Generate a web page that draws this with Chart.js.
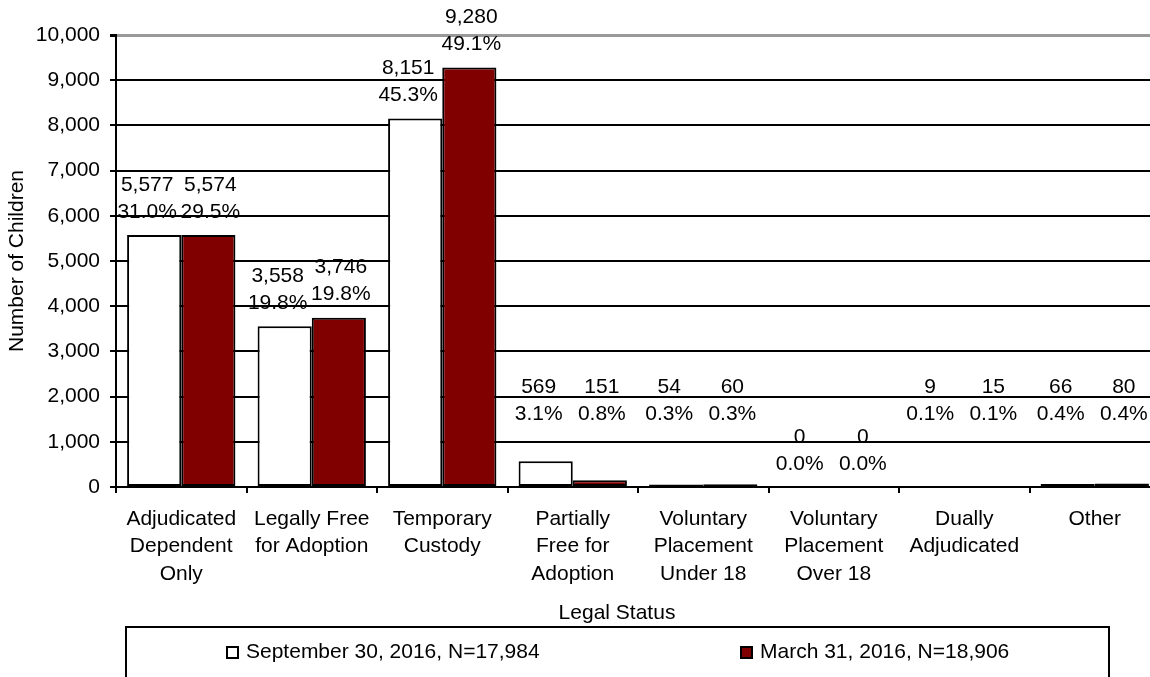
<!DOCTYPE html>
<html>
<head>
<meta charset="utf-8">
<script src="https://cdn.jsdelivr.net/npm/chart.js@4.4.1/dist/chart.umd.min.js"></script>
<style>
    html, body { margin: 0; padding: 0; background: #ffffff; overflow: hidden; }
    #wrap { width: 1150px; height: 677px; overflow: hidden; }
    canvas { display: block; }
</style>
</head>
<body>
<div id="wrap"><canvas id="legal_chart" width="1160" height="677"></canvas></div>
<script>
// Data
const categories = [
    ["Adjudicated", "Dependent", "Only"],
    ["Legally Free", "for Adoption"],
    ["Temporary", "Custody"],
    ["Partially", "Free for", "Adoption"],
    ["Voluntary", "Placement", "Under 18"],
    ["Voluntary", "Placement", "Over 18"],
    ["Dually", "Adjudicated"],
    ["Other"]
];
const series_names = ["September 30, 2016, N=17,984", "March 31, 2016, N=18,906"];
const sept_values = [5577, 3558, 8151, 569, 54, 0, 9, 66];
const march_values = [5574, 3746, 9280, 151, 60, 0, 15, 80];
const sept_percents = ["31.0%", "19.8%", "45.3%", "3.1%", "0.3%", "0.0%", "0.1%", "0.4%"];
const march_percents = ["29.5%", "19.8%", "49.1%", "0.8%", "0.3%", "0.0%", "0.1%", "0.4%"];
const y_ticks = [0, 1000, 2000, 3000, 4000, 5000, 6000, 7000, 8000, 9000, 10000];
const y_title = "Number of Children";
const x_title = "Legal Status";

"use strict";
const font_family = "'Liberation Sans', Arial, sans-serif";
const red_fill = "#800000";

// Value And Percent Labels Above Bars
const bar_labels_plugin = {
    id: "barLabels",
    afterDatasetsDraw(chart) {
        const { ctx } = chart;
        const percents = [sept_percents, march_percents];
        const nudge = [-7, 2]; // White Labels Lean Left
        const lift_level = chart.scales.y.getPixelForValue(2200); // Small Non Zero Bars Get Labels Lifted
        ctx.save();
        ctx.font = "21px " + font_family;
        ctx.fillStyle = "#000000";
        ctx.textAlign = "center";
        ctx.textBaseline = "middle";
        chart.data.datasets.forEach(function (dataset, d) {
            chart.getDatasetMeta(d).data.forEach(function (bar, i) {
                const value = dataset.data[i];
                let value_y = bar.y - 50;
                if (value > 0) {
                    value_y = Math.min(value_y, lift_level);
                }
                ctx.fillText(value.toLocaleString("en-US"), bar.x + nudge[d], value_y);
                ctx.fillText(percents[d][i], bar.x + nudge[d], value_y + 27);
            });
        });
        ctx.restore();
    }
};

// X Title And Boxed Legend
const legend_box_plugin = {
    id: "legendBox",
    afterDraw(chart) {
        const { ctx } = chart;
        ctx.save();
        ctx.font = "21px " + font_family;
        ctx.fillStyle = "#000000";
        ctx.textBaseline = "middle";
        ctx.textAlign = "center";
        ctx.fillText(x_title, 617, 613);
        // Box
        ctx.strokeStyle = "#000000";
        ctx.lineWidth = 2;
        ctx.strokeRect(126, 627, 983, 80);
        // Items
        const items = [
            { x: 227, fill: "#ffffff", text: series_names[0] },
            { x: 741, fill: red_fill, text: series_names[1] }
        ];
        ctx.textAlign = "left";
        items.forEach(function (item) {
            ctx.fillStyle = item.fill;
            ctx.fillRect(item.x, 647, 11, 11);
            ctx.lineWidth = 2;
            ctx.strokeRect(item.x, 647, 11, 11);
            ctx.fillStyle = "#000000";
            ctx.fillText(item.text, item.x + 19, 652);
        });
        ctx.restore();
    }
};

const legal_chart = document.querySelector("#legal_chart");
new Chart(legal_chart, {
    type: "bar",
    data: {
        labels: categories,
        datasets: [
            {
                label: series_names[0],
                data: sept_values,
                backgroundColor: "#ffffff",
                borderColor: "#000000",
                borderWidth: 2,
                borderSkipped: false,
                categoryPercentage: 0.83,
                barPercentage: 1.0
            },
            {
                label: series_names[1],
                data: march_values,
                backgroundColor: red_fill,
                borderColor: "#000000",
                borderWidth: 2,
                borderSkipped: false,
                categoryPercentage: 0.83,
                barPercentage: 1.0
            }
        ]
    },
    options: {
        responsive: false,
        animation: false,
        devicePixelRatio: 1,
        layout: {
            padding: { top: 35, left: 0, right: 0, bottom: 0 }
        },
        scales: {
            x: {
                offset: true,
                grid: {
                    offset: true,
                    drawOnChartArea: false,
                    drawTicks: true,
                    tickLength: 6,
                    color: "#000000",
                    lineWidth: 2
                },
                border: { color: "#000000", width: 2 },
                ticks: {
                    color: "#000000",
                    padding: 13,
                    maxRotation: 0,
                    autoSkip: false,
                    font: { family: font_family, size: 21, lineHeight: 1.29 }
                },
                afterFit(scale) {
                    scale.height = 190;
                }
            },
            y: {
                min: 0,
                max: 10000,
                afterBuildTicks(scale) {
                    scale.ticks = y_ticks.map(function (v) { return { value: v }; });
                },
                grid: {
                    color: function (context) {
                        return context.tick && context.tick.value === 10000 ? "#999999" : "#000000";
                    },
                    lineWidth: function (context) {
                        return context.tick && context.tick.value === 10000 ? 3 : 2;
                    },
                    tickLength: 6,
                    tickColor: "#000000"
                },
                border: { color: "#000000", width: 2 },
                ticks: {
                    color: "#000000",
                    padding: 10,
                    font: { family: font_family, size: 21 },
                    callback: function (value) {
                        return Number(value).toLocaleString("en-US");
                    }
                },
                title: {
                    display: true,
                    text: y_title,
                    color: "#000000",
                    padding: { top: 5, bottom: 0 },
                    font: { family: font_family, size: 21 }
                },
                afterFit(scale) {
                    scale.width = 116;
                }
            }
        },
        plugins: {
            legend: { display: false },
            tooltip: { enabled: false }
        }
    },
    plugins: [bar_labels_plugin, legend_box_plugin]
});
</script>
</body>
</html>
